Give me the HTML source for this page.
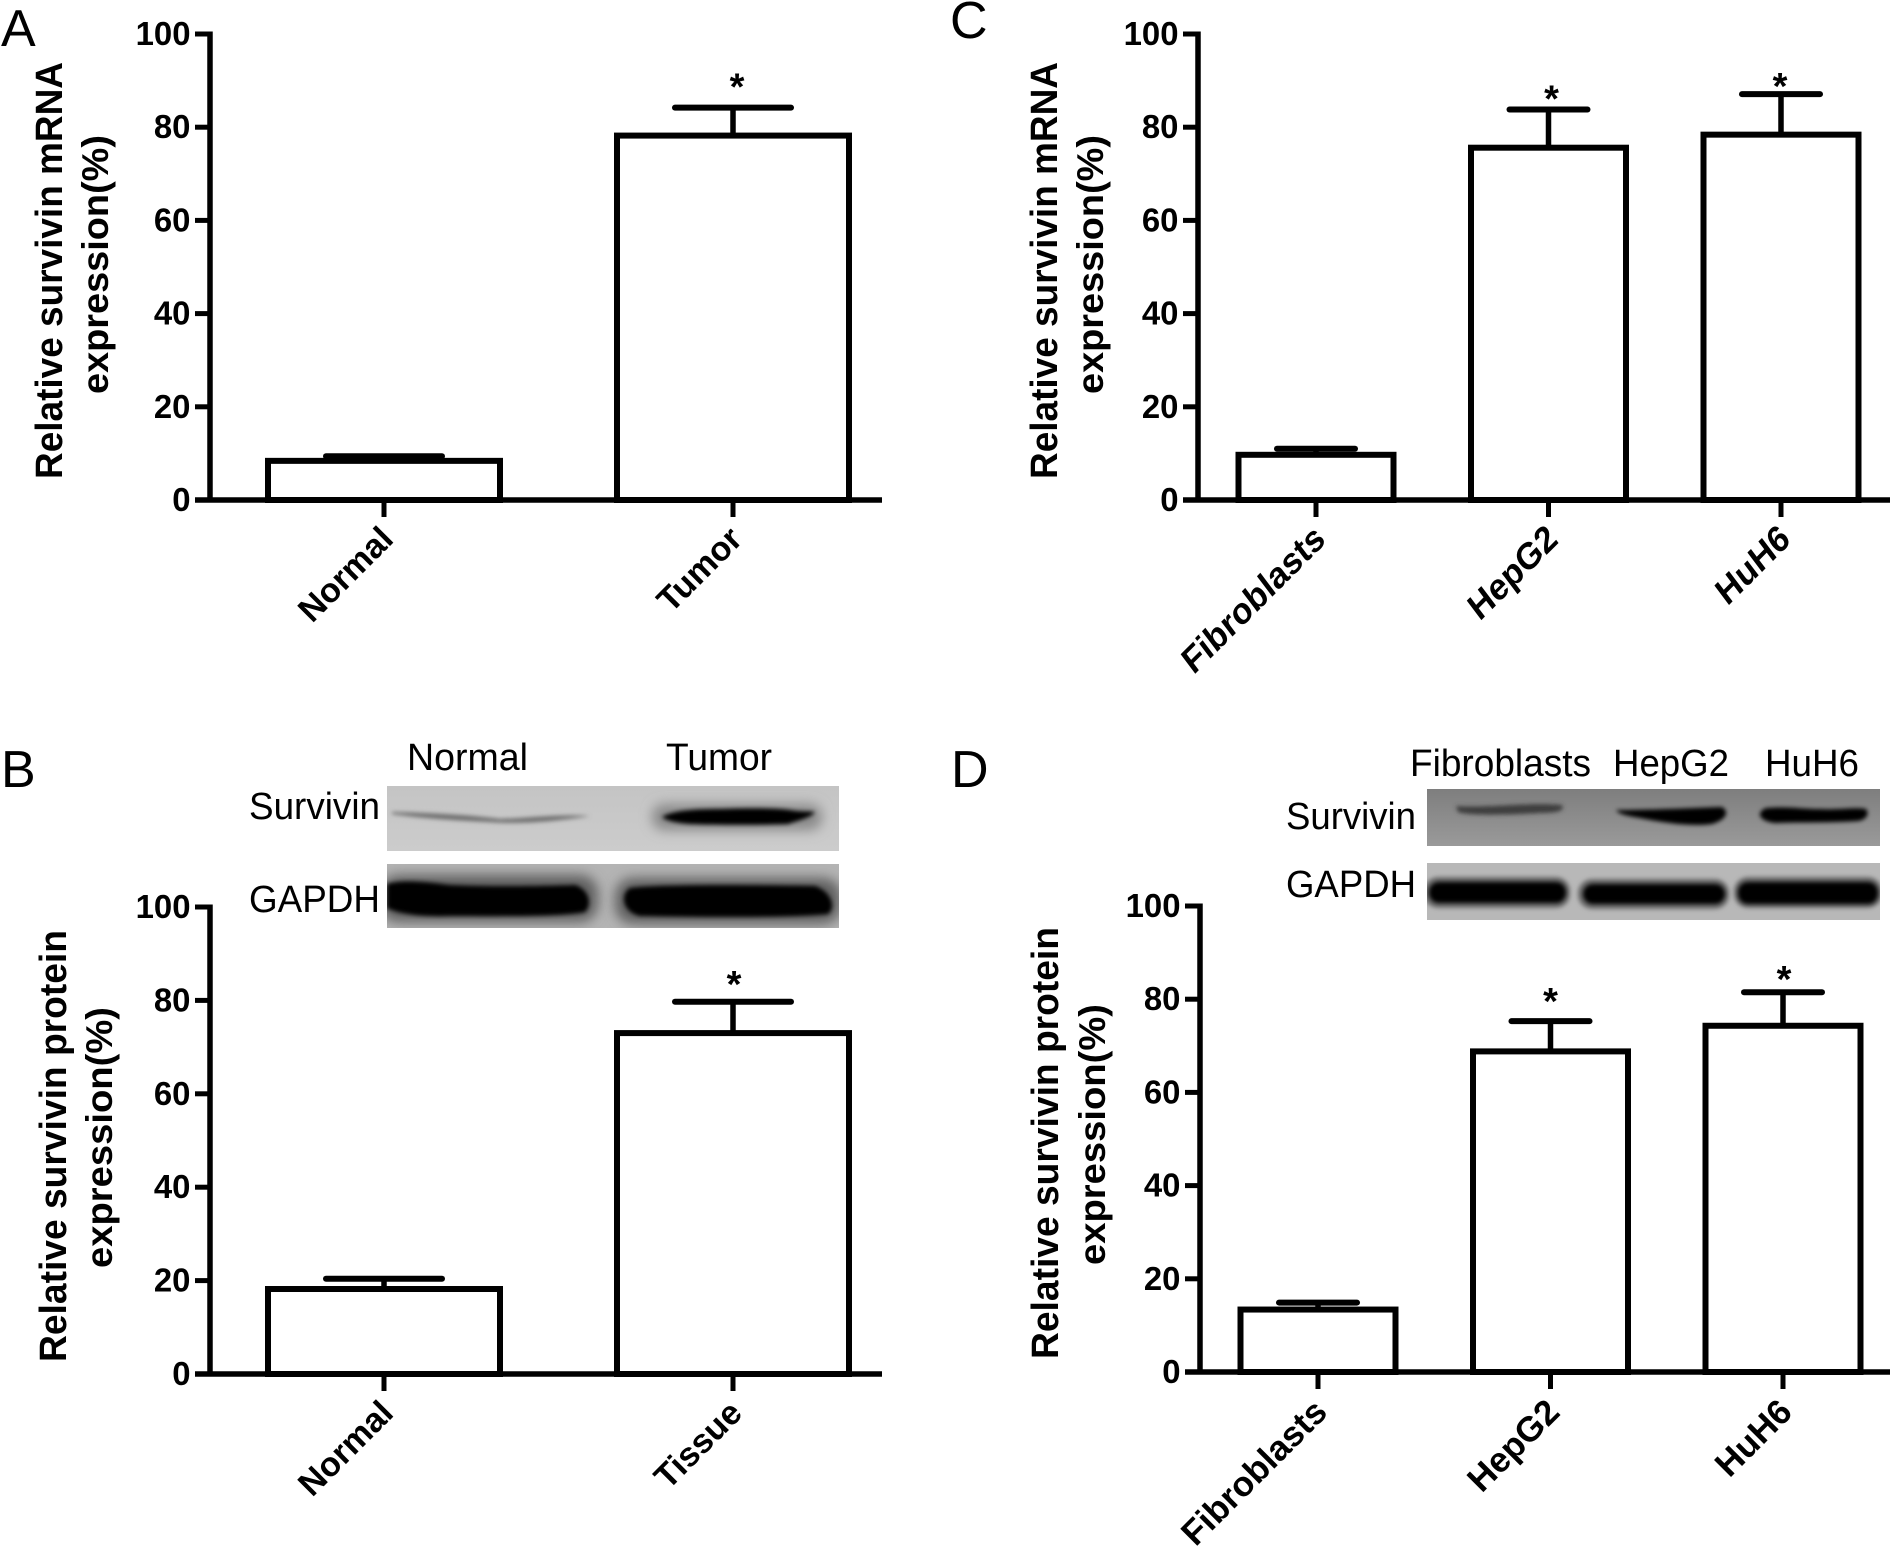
<!DOCTYPE html>
<html lang="en">
<head>
<meta charset="utf-8">
<title>Survivin expression figure</title>
<style>
html,body{margin:0;padding:0;background:#fff;}
svg{display:block;}
text{font-family:"Liberation Sans",sans-serif;fill:#000;}
</style>
</head>
<body>
<svg id="figure" xmlns="http://www.w3.org/2000/svg" width="1890" height="1552" viewBox="0 0 1890 1552">
<defs>
<filter id="blur-soft" x="-20%" y="-100%" width="140%" height="300%"><feGaussianBlur stdDeviation="2"/></filter>
<filter id="blur-wide" x="-20%" y="-100%" width="140%" height="300%"><feGaussianBlur stdDeviation="6"/></filter>
<clipPath id="clip-b-surv"><rect x="387" y="786" width="452" height="65"/></clipPath>
<clipPath id="clip-b-gapdh"><rect x="387" y="864" width="452" height="64"/></clipPath>
<clipPath id="clip-d-surv"><rect x="1427" y="789" width="453" height="57"/></clipPath>
<clipPath id="clip-d-gapdh"><rect x="1427" y="863" width="453" height="57"/></clipPath>
<linearGradient id="d-surv-bg" x1="0" y1="0" x2="0" y2="1"><stop offset="0" stop-color="#7e7e7e"/><stop offset="1" stop-color="#9a9a9a"/></linearGradient>
<linearGradient id="b-surv-bg" x1="0" y1="0" x2="0" y2="1"><stop offset="0" stop-color="#c4c4c4"/><stop offset="1" stop-color="#cccccc"/></linearGradient>
</defs>
<rect width="1890" height="1552" fill="#fff"/>

<g>
<g clip-path="url(#clip-b-surv)">
<rect x="387" y="786" width="452" height="65" fill="url(#b-surv-bg)"/>
<path d="M392 812 C430 813 470 815 500 819 C530 818 560 814 590 816 C550 822 520 824 490 822 C450 820 420 818 392 814Z" fill="#6a6a6a" filter="url(#blur-soft)"/>
<rect x="652" y="804" width="170" height="26" rx="12" fill="#888" filter="url(#blur-wide)"/>
<path d="M662 817 C672 811 690 809 720 809 C750 808 775 808 790 810 C800 812 808 811 815 812 C812 817 800 820 788 824 C760 825 720 825 690 824 C675 823 665 820 662 817Z" fill="#000" filter="url(#blur-soft)"/>
</g>
<g clip-path="url(#clip-b-gapdh)">
<rect x="387" y="864" width="452" height="64" fill="#b4b4b4"/>
<rect x="380" y="875" width="218" height="47" rx="18" fill="#5e5e5e" filter="url(#blur-wide)"/>
<rect x="615" y="878" width="226" height="46" rx="18" fill="#5e5e5e" filter="url(#blur-wide)"/>
<path d="M387 884 C400 880 420 881 450 885 C490 887 550 886 575 885 C590 890 592 905 585 912 C560 917 500 916 450 916 C420 917 400 914 387 908Z" fill="#000" filter="url(#blur-soft)"/>
<path d="M630 888 C660 884 760 885 815 886 C832 892 836 908 828 914 C790 918 700 917 640 916 C622 912 620 894 630 888Z" fill="#000" filter="url(#blur-soft)"/>
</g>
<text x="407" y="770" font-size="38" textLength="121" lengthAdjust="spacingAndGlyphs">Normal</text>
<text x="666" y="770" font-size="38" textLength="106" lengthAdjust="spacingAndGlyphs">Tumor</text>
<text x="249" y="819" font-size="38" textLength="131" lengthAdjust="spacingAndGlyphs">Survivin</text>
<text x="249" y="912" font-size="38" textLength="131" lengthAdjust="spacingAndGlyphs">GAPDH</text>
</g>

<g>
<g clip-path="url(#clip-d-surv)">
<rect x="1427" y="789" width="453" height="57" fill="url(#d-surv-bg)"/>
<path d="M1456 806 C1490 808 1530 802 1562 805 C1565 810 1560 813 1540 813 C1510 815 1470 816 1458 812Z" fill="#3c3c3c" filter="url(#blur-soft)"/>
<path d="M1616 810 C1650 810 1690 808 1722 807 C1730 812 1726 820 1712 824 C1690 827 1660 822 1640 818 C1628 816 1618 814 1616 810Z" fill="#000" filter="url(#blur-soft)"/>
<path d="M1766 808 C1790 806 1800 809 1820 809 C1840 810 1855 807 1866 809 C1870 814 1866 820 1858 821 C1830 823 1800 822 1775 823 C1758 821 1756 812 1766 808Z" fill="#000" filter="url(#blur-soft)"/>
</g>
<g clip-path="url(#clip-d-gapdh)">
<rect x="1427" y="863" width="453" height="57" fill="#b8b8b8"/>
<rect x="1424" y="877" width="146" height="31" rx="14" fill="#6a6a6a" filter="url(#blur-soft)"/>
<rect x="1578" y="879" width="151" height="30" rx="14" fill="#6a6a6a" filter="url(#blur-soft)"/>
<rect x="1734" y="877" width="148" height="31" rx="14" fill="#6a6a6a" filter="url(#blur-soft)"/>
<rect x="1429" y="882" width="137" height="21" rx="10" fill="#000" filter="url(#blur-soft)"/>
<rect x="1583" y="884" width="142" height="20" rx="10" fill="#000" filter="url(#blur-soft)"/>
<rect x="1738" y="882" width="140" height="22" rx="10" fill="#000" filter="url(#blur-soft)"/>
</g>
<text x="1410" y="776" font-size="38" textLength="181" lengthAdjust="spacingAndGlyphs">Fibroblasts</text>
<text x="1613" y="776" font-size="38" textLength="116" lengthAdjust="spacingAndGlyphs">HepG2</text>
<text x="1765" y="776" font-size="38" textLength="94" lengthAdjust="spacingAndGlyphs">HuH6</text>
<text x="1286" y="829" font-size="38" textLength="130" lengthAdjust="spacingAndGlyphs">Survivin</text>
<text x="1286" y="897" font-size="38" textLength="130" lengthAdjust="spacingAndGlyphs">GAPDH</text>
</g>

<text x="1" y="46" font-size="52">A</text>
<text x="1" y="787" font-size="52">B</text>
<text x="950" y="38" font-size="52">C</text>
<text x="951" y="787" font-size="52">D</text>
</svg>

<script>
const yTickLabels = [0, 20, 40, 60, 80, 100];

const panelACategories = ["Normal", "Tumor"];
const panelAValues = [8.4, 78.2];
const panelAErrorTops = [9.4, 84.2];
const panelASignificant = [false, true];

const panelBCategories = ["Normal", "Tissue"];
const panelBValues = [18.2, 73];
const panelBErrorTops = [20.4, 79.7];
const panelBSignificant = [false, true];

const panelCCategories = ["Fibroblasts", "HepG2", "HuH6"];
const panelCValues = [9.7, 75.6, 78.4];
const panelCErrorTops = [11, 83.8, 87.1];
const panelCSignificant = [false, true, true];

const panelDCategories = ["Fibroblasts", "HepG2", "HuH6"];
const panelDValues = [13.4, 68.8, 74.3];
const panelDErrorTops = [14.9, 75.3, 81.5];
const panelDSignificant = [false, true, true];

const NS = "http://www.w3.org/2000/svg";
const svg = document.getElementById("figure");

function node(parent, tag, attrs, text) {
  const el = document.createElementNS(NS, tag);
  Object.keys(attrs).forEach(function (k) { el.setAttribute(k, attrs[k]); });
  if (text !== undefined) el.textContent = text;
  parent.appendChild(el);
  return el;
}

function drawPanel(id, cats, vals, tops, sig, g) {
  const y = function (v) { return g.zeroY - (v / 100) * (g.zeroY - g.topY); };
  const x = function (i) { return g.firstCenter + i * g.step; };

  const group = node(svg, "g", {});
  
  

  cats.forEach(function (cat, i) {
    const cx = x(i);
    const barTop = y(vals[i]);
    const errTop = y(tops[i]);
    const stem = node(group, "line", { x1: cx, x2: cx, y1: barTop, y2: errTop, stroke: "#000", "stroke-width": 5.5 });
    
    
    const cap = node(group, "line", { x1: cx - g.capHalf, x2: cx + g.capHalf, y1: errTop, y2: errTop, stroke: "#000", "stroke-width": 6, "stroke-linecap": "round" });
    
    
    const bar = node(group, "rect", { x: cx - g.barWidth / 2, y: barTop, width: g.barWidth, height: g.zeroY - barTop, fill: "#fff", stroke: "#000", "stroke-width": 6 });
    
    
    const tick = node(group, "line", { x1: cx, x2: cx, y1: g.zeroY, y2: g.zeroY + 17, stroke: "#000", "stroke-width": 5 });
    
    
    const label = node(group, "text", { transform: "translate(" + (cx + g.labelDx) + "," + (g.zeroY + g.labelDy) + ") rotate(-45) skewX(" + g.labelSkew + ")", "text-anchor": "end", "font-size": g.labelSize, "font-weight": "bold" }, cat);
    
    
    if (sig[i]) {
      const star = node(group, "text", { x: cx + g.starDx[i], y: errTop + g.starDy[i], "text-anchor": "middle", "font-size": 38, "font-weight": "bold" }, "*");
      
      
    }
  });

  const yAxis = node(group, "line", { x1: g.axisX, x2: g.axisX, y1: g.topY - 2.5, y2: g.zeroY, stroke: "#000", "stroke-width": 5.5 });
  
  
  const xAxis = node(group, "line", { x1: g.axisX - 15, x2: g.axisEnd, y1: g.zeroY, y2: g.zeroY, stroke: "#000", "stroke-width": 5.5 });
  
  

  yTickLabels.forEach(function (t) {
    const ty = y(t);
    const tick = node(group, "line", { x1: g.axisX - 15, x2: g.axisX, y1: ty, y2: ty, stroke: "#000", "stroke-width": 5 });
    
    
    const s = String(t);
    const label = node(group, "text", { x: g.axisX - 19.5 - s.length * 18.3, y: ty + 11, "font-size": 33, "font-weight": "bold", textLength: s.length * 18.3, lengthAdjust: "spacingAndGlyphs" }, s);
    
    
  });

  const t1 = node(group, "text", { transform: "translate(" + g.title1X + "," + g.title1Bottom + ") rotate(-90)", "font-size": 38, "font-weight": "bold", textLength: g.title1Len, lengthAdjust: "spacingAndGlyphs" }, g.title1);
  
  
  const t2 = node(group, "text", { transform: "translate(" + g.title2X + "," + g.title2Bottom + ") rotate(-90)", "font-size": 37, "font-weight": "bold", textLength: g.title2Len, lengthAdjust: "spacingAndGlyphs" }, "expression(%)");
  
  
}

drawPanel("a", panelACategories, panelAValues, panelAErrorTops, panelASignificant, {
  axisX: 210, axisEnd: 882, topY: 34, zeroY: 500, firstCenter: 384, step: 349, barWidth: 232, capHalf: 58,
  labelDx: 11, labelDy: 41, labelSize: 34, labelSkew: 0, starDx: [0, 4], starDy: [0, -8],
  title1: "Relative survivin mRNA", title1X: 62, title1Bottom: 479, title1Len: 417,
  title2X: 108, title2Bottom: 394, title2Len: 259
});
drawPanel("b", panelBCategories, panelBValues, panelBErrorTops, panelBSignificant, {
  axisX: 210, axisEnd: 882, topY: 907, zeroY: 1374, firstCenter: 384, step: 349, barWidth: 232, capHalf: 58,
  labelDx: 11, labelDy: 41, labelSize: 34, labelSkew: 0, starDx: [0, 1], starDy: [0, -5],
  title1: "Relative survivin protein", title1X: 66, title1Bottom: 1362, title1Len: 432,
  title2X: 112, title2Bottom: 1268, title2Len: 261
});
drawPanel("c", panelCCategories, panelCValues, panelCErrorTops, panelCSignificant, {
  axisX: 1198, axisEnd: 1890, topY: 34, zeroY: 500, firstCenter: 1316, step: 232.5, barWidth: 155, capHalf: 39,
  labelDx: 11, labelDy: 42, labelSize: 35, labelSkew: -8, starDx: [0, 3, -1], starDy: [0, 2, 5],
  title1: "Relative survivin mRNA", title1X: 1057, title1Bottom: 479, title1Len: 417,
  title2X: 1103, title2Bottom: 394, title2Len: 259
});
drawPanel("d", panelDCategories, panelDValues, panelDErrorTops, panelDSignificant, {
  axisX: 1200, axisEnd: 1890, topY: 906, zeroY: 1372, firstCenter: 1318, step: 232.5, barWidth: 155, capHalf: 39,
  labelDx: 11, labelDy: 42, labelSize: 35, labelSkew: 0, starDx: [0, 0, 1], starDy: [0, -7, 0],
  title1: "Relative survivin protein", title1X: 1058, title1Bottom: 1359, title1Len: 432,
  title2X: 1105, title2Bottom: 1265, title2Len: 261
});
</script>
</body>
</html>
